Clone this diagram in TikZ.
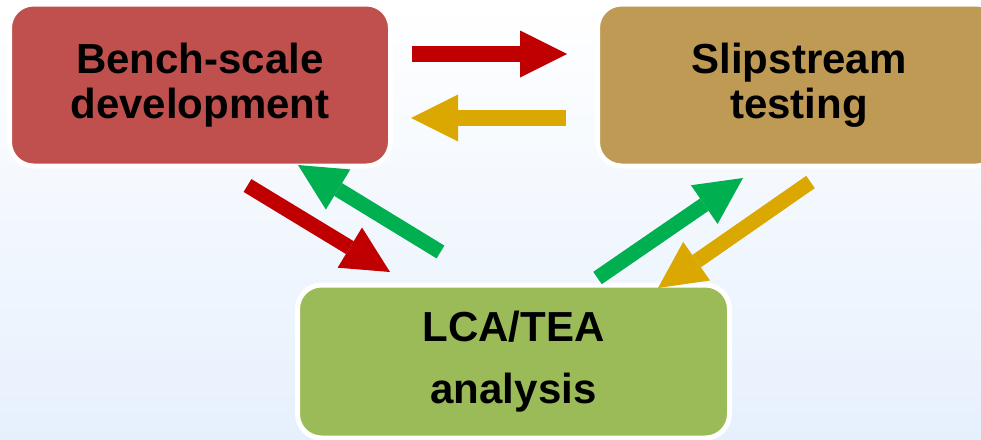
\documentclass[tikz,border=0pt]{standalone}
\usepackage{fontspec}
\setmainfont{Liberation Sans}
\usetikzlibrary{arrows.meta}
\definecolor{benchred}{HTML}{C0504D}
\definecolor{sliptan}{HTML}{BF9A54}
\definecolor{lcagreen}{HTML}{9BBB59}
\definecolor{arrred}{HTML}{C00000}
\definecolor{arryellow}{HTML}{DAA800}
\definecolor{arrgreen}{HTML}{00B050}
\definecolor{bgbottom}{HTML}{E6F0FD}
\begin{document}
\begin{tikzpicture}[x=1pt,y=-1pt,
  box/.style={rectangle, rounded corners=24pt, draw=white, line width=5pt,
    align=center, text=black, inner sep=0pt,
    font=\bfseries\fontsize{42}{45.5}\selectfont},
  flow/.style={line width=15pt, line cap=butt,
    -{Triangle[length=47pt,width=47pt,line width=0pt]}}]
\useasboundingbox (0,0) rectangle (981,439);
\clip (0,0) rectangle (981,439);
\shade[top color=white, bottom color=bgbottom] (0,0) rectangle (981,439);

\node[box, fill=benchred, minimum width=381pt, minimum height=162pt] (bench)
  at (200,85) {Bench-scale\\development};
\node[box, fill=sliptan, minimum width=403pt, minimum height=162pt] (slip)
  at (799,85) {Slipstream\\testing};
\node[box, fill=lcagreen, minimum width=432pt, minimum height=153pt,
  font=\bfseries\fontsize{42}{62}\selectfont] (lca)
  at (513.5,361.5) {LCA/TEA\\analysis};

% arrow end points
\coordinate (rhA) at (412,54);    \coordinate (rhB) at (567,54);
\coordinate (yhA) at (566,118);   \coordinate (yhB) at (411,118);
\coordinate (rdA) at (247.5,185.5); \coordinate (rdB) at (390,272);
\coordinate (glA) at (440.5,252); \coordinate (glB) at (298,165);
\coordinate (grA) at (597.5,278); \coordinate (grB) at (743,178);
\coordinate (ydA) at (810.5,182); \coordinate (ydB) at (658,288);

\draw[flow, line width=16pt, arrred] (rhA) -- (rhB);
\draw[flow, line width=16pt, arryellow] (yhA) -- (yhB);
\draw[flow, arrred] (rdA) -- (rdB);
\draw[flow, arrgreen] (glA) -- (glB);
\draw[flow, arrgreen] (grA) -- (grB);
\draw[flow, arryellow] (ydA) -- (ydB);
\end{tikzpicture}
\end{document}
